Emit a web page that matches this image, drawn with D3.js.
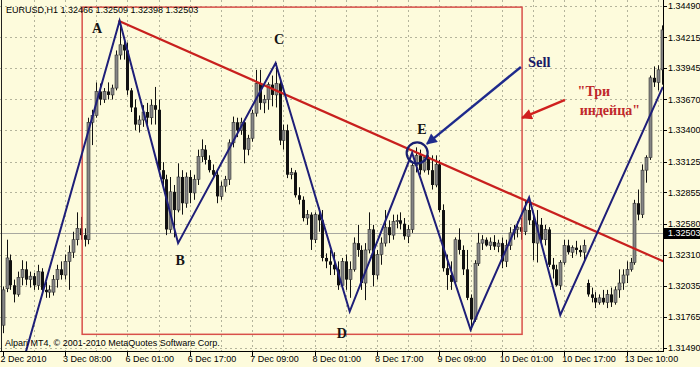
<!DOCTYPE html>
<html>
<head>
<meta charset="utf-8">
<script src="https://cdnjs.cloudflare.com/ajax/libs/d3/7.8.5/d3.min.js"></script>
<style>
  body { margin: 0; background: #fdfbdc; }
  .tick-text { font-family: "Liberation Sans", Arial, sans-serif; font-size: 9px; fill: #000; }
  .mark { font-family: "Liberation Serif", "Times New Roman", serif; font-weight: bold; }
</style>
</head>
<body>
<div class="chart"></div>
<script>
var svgWidth = 700;
var svgHeight = 367;

// plot area (MT4 keeps the price scale on the right, dates below)
var width = 663;
var height = 351;

// hourly candles EURUSD H1: [open, high, low, close]
var candles = [
  [1.3169,1.3203,1.3162,1.3200],[1.3201,1.3244,1.3198,1.3228],[1.3226,1.3231,1.3200,1.3204],[1.3204,1.3209,1.3189,1.3196],
  [1.3196,1.3216,1.3194,1.3211],[1.3211,1.3226,1.3204,1.3218],[1.3218,1.3225,1.3204,1.3209],[1.3209,1.3216,1.3202,1.3212],
  [1.3212,1.3215,1.3200,1.3204],[1.3204,1.3222,1.3200,1.3216],[1.3216,1.3219,1.3196,1.3200],[1.3200,1.3207,1.3193,1.3198],
  [1.3198,1.3204,1.3193,1.3200],[1.3198,1.3213,1.3195,1.3209],[1.3209,1.3222,1.3202,1.3218],[1.3218,1.3225,1.3209,1.3213],
  [1.3213,1.3231,1.3209,1.3225],[1.3225,1.3239,1.3200,1.3233],[1.3233,1.3251,1.3228,1.3244],[1.3244,1.3268,1.3239,1.3254],
  [1.3254,1.3264,1.3244,1.3248],[1.3248,1.3254,1.3238,1.3244],[1.3244,1.3351,1.3240,1.3347],[1.3347,1.3358,1.3327,1.3353],
  [1.3353,1.3382,1.3351,1.3374],[1.3374,1.3381,1.3362,1.3367],[1.3367,1.3377,1.3364,1.3374],[1.3374,1.3382,1.3367,1.3371],
  [1.3371,1.3380,1.3367,1.3377],[1.3377,1.3410,1.3375,1.3406],[1.3406,1.3435,1.3402,1.3415],[1.3415,1.3421,1.3402,1.3410],
  [1.3410,1.3417,1.3371,1.3375],[1.3375,1.3377,1.3356,1.3360],[1.3360,1.3367,1.3340,1.3345],[1.3345,1.3353,1.3338,1.3349],
  [1.3349,1.3362,1.3343,1.3356],[1.3356,1.3364,1.3345,1.3351],[1.3351,1.3367,1.3345,1.3362],[1.3362,1.3378,1.3345,1.3358],
  [1.3358,1.3367,1.3301,1.3305],[1.3305,1.3312,1.3288,1.3297],[1.3297,1.3301,1.3248,1.3253],[1.3253,1.3299,1.3250,1.3286],
  [1.3286,1.3292,1.3246,1.3270],[1.3270,1.3311,1.3268,1.3299],[1.3299,1.3305,1.3266,1.3276],[1.3276,1.3303,1.3272,1.3299],
  [1.3299,1.3305,1.3276,1.3285],[1.3285,1.3301,1.3279,1.3297],[1.3297,1.3323,1.3292,1.3317],[1.3317,1.3332,1.3312,1.3323],
  [1.3323,1.3327,1.3310,1.3314],[1.3314,1.3318,1.3303,1.3305],[1.3305,1.3310,1.3298,1.3301],[1.3301,1.3305,1.3276,1.3282],
  [1.3282,1.3295,1.3279,1.3291],[1.3291,1.3300,1.3286,1.3297],[1.3297,1.3332,1.3292,1.3329],[1.3329,1.3352,1.3325,1.3347],
  [1.3347,1.3351,1.3334,1.3340],[1.3340,1.3351,1.3336,1.3347],[1.3347,1.3349,1.3311,1.3323],[1.3323,1.3336,1.3318,1.3333],
  [1.3333,1.3358,1.3330,1.3355],[1.3355,1.3393,1.3352,1.3381],[1.3381,1.3393,1.3358,1.3364],[1.3364,1.3371,1.3355,1.3367],
  [1.3367,1.3382,1.3358,1.3380],[1.3380,1.3388,1.3361,1.3371],[1.3371,1.3399,1.3360,1.3381],[1.3381,1.3384,1.3327,1.3331],
  [1.3331,1.3345,1.3323,1.3340],[1.3340,1.3345,1.3298,1.3301],[1.3301,1.3307,1.3297,1.3303],[1.3303,1.3305,1.3281,1.3283],
  [1.3283,1.3290,1.3275,1.3279],[1.3279,1.3282,1.3260,1.3263],[1.3263,1.3270,1.3257,1.3266],[1.3266,1.3268,1.3235,1.3244],
  [1.3244,1.3268,1.3241,1.3266],[1.3266,1.3272,1.3251,1.3261],[1.3261,1.3270,1.3225,1.3228],[1.3228,1.3232,1.3219,1.3225],
  [1.3225,1.3235,1.3213,1.3222],[1.3222,1.3233,1.3213,1.3218],[1.3218,1.3225,1.3200,1.3204],[1.3204,1.3228,1.3202,1.3225],
  [1.3225,1.3231,1.3200,1.3209],[1.3209,1.3225,1.3193,1.3218],[1.3218,1.3246,1.3216,1.3241],[1.3241,1.3257,1.3229,1.3235],
  [1.3235,1.3239,1.3200,1.3206],[1.3206,1.3241,1.3191,1.3235],[1.3235,1.3268,1.3232,1.3253],[1.3253,1.3257,1.3203,1.3213],
  [1.3213,1.3235,1.3209,1.3231],[1.3231,1.3246,1.3222,1.3241],[1.3241,1.3270,1.3238,1.3255],[1.3255,1.3261,1.3241,1.3248],
  [1.3248,1.3266,1.3244,1.3260],[1.3260,1.3266,1.3254,1.3261],[1.3261,1.3268,1.3253,1.3258],[1.3258,1.3263,1.3244,1.3247],
  [1.3247,1.3257,1.3241,1.3253],[1.3253,1.3311,1.3250,1.3309],[1.3309,1.3325,1.3303,1.3318],[1.3318,1.3323,1.3301,1.3305],
  [1.3305,1.3318,1.3303,1.3316],[1.3316,1.3318,1.3301,1.3305],[1.3305,1.3318,1.3288,1.3292],[1.3292,1.3318,1.3290,1.3310],
  [1.3310,1.3314,1.3268,1.3270],[1.3270,1.3275,1.3216,1.3219],[1.3219,1.3231,1.3200,1.3213],[1.3213,1.3225,1.3200,1.3207],
  [1.3207,1.3246,1.3204,1.3244],[1.3244,1.3254,1.3231,1.3235],[1.3235,1.3239,1.3213,1.3218],[1.3218,1.3235,1.3191,1.3193],
  [1.3193,1.3196,1.3165,1.3174],[1.3174,1.3226,1.3172,1.3223],[1.3223,1.3250,1.3221,1.3241],[1.3241,1.3248,1.3235,1.3244],
  [1.3244,1.3246,1.3238,1.3239],[1.3239,1.3246,1.3235,1.3242],[1.3242,1.3248,1.3235,1.3238],[1.3238,1.3244,1.3233,1.3241],
  [1.3241,1.3246,1.3219,1.3225],[1.3225,1.3244,1.3220,1.3239],[1.3239,1.3255,1.3235,1.3250],[1.3250,1.3257,1.3244,1.3253],
  [1.3253,1.3260,1.3246,1.3255],[1.3255,1.3263,1.3244,1.3251],[1.3251,1.3279,1.3248,1.3270],[1.3270,1.3281,1.3257,1.3261],
  [1.3261,1.3268,1.3226,1.3241],[1.3241,1.3270,1.3224,1.3257],[1.3257,1.3263,1.3239,1.3244],[1.3244,1.3257,1.3239,1.3253],
  [1.3253,1.3255,1.3220,1.3222],[1.3222,1.3228,1.3210,1.3218],[1.3218,1.3222,1.3203,1.3204],[1.3204,1.3226,1.3200,1.3224],
  [1.3224,1.3244,1.3222,1.3239],[1.3239,1.3244,1.3231,1.3233],[1.3233,1.3239,1.3228,1.3237],[1.3237,1.3243,1.3231,1.3235],
  [1.3235,1.3239,1.3229,1.3233],[1.3233,1.3244,1.3225,1.3239],[1.3206,1.3209,1.3194,1.3196],[1.3196,1.3202,1.3189,1.3193],
  [1.3193,1.3198,1.3184,1.3189],[1.3189,1.3196,1.3187,1.3193],[1.3193,1.3200,1.3187,1.3189],[1.3189,1.3200,1.3184,1.3196],
  [1.3196,1.3202,1.3185,1.3189],[1.3189,1.3203,1.3187,1.3200],[1.3200,1.3218,1.3193,1.3206],[1.3206,1.3218,1.3200,1.3213],
  [1.3213,1.3225,1.3206,1.3218],[1.3218,1.3228,1.3216,1.3224],[1.3224,1.3279,1.3222,1.3276],[1.3276,1.3288,1.3261,1.3266],
  [1.3266,1.3310,1.3263,1.3305],[1.3305,1.3318,1.3294,1.3316],[1.3316,1.3388,1.3314,1.3386],[1.3386,1.3396,1.3378,1.3382],
  [1.3382,1.3397,1.3375,1.3393],[1.3393,1.3432,1.3380,1.3428]
];

var priceTicks = [1.31490, 1.31765, 1.32035, 1.32310, 1.32580, 1.32855, 1.33125, 1.33400, 1.33670, 1.33945, 1.34215, 1.34490];
var dateTickBars = [0, 16, 32, 48, 64, 80, 96, 112, 128, 144, 160];
var dateLabels = ["2 Dec 2010", "3 Dec 08:00", "6 Dec 01:00", "6 Dec 17:00", "7 Dec 09:00", "8 Dec 01:00",
  "8 Dec 17:00", "9 Dec 09:00", "10 Dec 01:00", "10 Dec 17:00", "13 Dec 10:00"];
var lastPrice = 1.32503;
var headerText = "EURUSD,H1  1.32466 1.32509 1.32398 1.32503";
var copyText = "Alpari MT4, \u00a9 2001-2010 MetaQuotes Software Corp.";

// drawn analysis: zigzag through the swing points, trend line A-E, the box
var zigzag = [[6, 1.3146], [30, 1.3436], [45, 1.3241], [70, 1.3399], [89, 1.3181], [105, 1.3320],
  [120, 1.3165], [135, 1.3281], [143, 1.3178], [169.3, 1.3378]];
var trendLine = [[29.7, 1.3436], [169.4, 1.3225]];
var boxBars = [20.4, 133.2];
var boxPrices = [1.3161, 1.3448];
var pointNames = ["A", "B", "C", "D", "E"];
var pointSpots = [[24.2, 1.3430], [45.5, 1.3226], [70.9, 1.3420], [87, 1.3162], [107.5, 1.3341]];
var sellArrow = [[132.9, 1.33955], [108.8, 1.3328]];
var sellSpot = [134.7, 1.33999];
var circleSpot = [106.3, 1.33201];
var noteArrow = [[144.2, 1.33666], [133.2, 1.33508]];
var noteLines = ["\"\u0422\u0440\u0438", "\u0438\u043d\u0434\u0435\u0439\u0446\u0430\""];
var noteSpots = [[151.6, 1.33745], [155.7, 1.33578]];

var svg = d3.select(".chart")
  .append("svg")
  .attr("width", svgWidth)
  .attr("height", svgHeight)
  .style("display", "block");

svg.append("rect").attr("width", svgWidth).attr("height", svgHeight).attr("fill", "#fdfbdc");

var x = d3.scaleLinear().domain([0, 169]).range([2.6, 661.7]);
var y = d3.scaleLinear().domain([1.3149, 1.3449]).range([348, 6]);

svg.append("clipPath").attr("id", "plot")
  .append("rect").attr("x", 0).attr("y", 0).attr("width", width).attr("height", height);

// grid
var grid = svg.append("g").attr("stroke", "#b4b49c").attr("stroke-width", 1).attr("stroke-dasharray", "2,3");
grid.selectAll(".h").data(priceTicks).enter().append("line")
  .attr("x1", 0).attr("x2", width)
  .attr("y1", d => Math.round(y(d)) + 0.5).attr("y2", d => Math.round(y(d)) + 0.5);
grid.selectAll(".v").data(d3.range(8, 169, 8)).enter().append("line")
  .attr("y1", 0).attr("y2", height)
  .attr("x1", d => Math.round(x(d)) + 0.5).attr("x2", d => Math.round(x(d)) + 0.5);

// current price line
svg.append("line")
  .attr("x1", 0).attr("x2", width)
  .attr("y1", Math.round(y(lastPrice)) + 0.5).attr("y2", Math.round(y(lastPrice)) + 0.5)
  .attr("stroke", "#a8a8a0").attr("stroke-width", 1);

// candles
var candleGroup = svg.append("g").attr("clip-path", "url(#plot)");
candleGroup.selectAll(".wick").data(candles).enter().append("line")
  .attr("x1", (d, i) => Math.round(x(i)) + 0.5).attr("x2", (d, i) => Math.round(x(i)) + 0.5)
  .attr("y1", d => y(d[1])).attr("y2", d => y(d[2]))
  .attr("stroke", "#111").attr("stroke-width", 1);
candleGroup.selectAll(".body").data(candles).enter().append("rect")
  .attr("x", (d, i) => Math.round(x(i)) - 1)
  .attr("width", 3)
  .attr("y", d => y(Math.max(d[0], d[3])))
  .attr("height", d => Math.max(1, Math.abs(y(d[0]) - y(d[3]))))
  .attr("fill", d => d[3] >= d[0] ? "#858585" : "#111")
  .attr("stroke", d => d[3] >= d[0] ? "#333" : "none")
  .attr("stroke-width", 0.6);

// analysis drawings
var draw = svg.append("g").attr("clip-path", "url(#plot)");
draw.append("rect")
  .attr("x", x(boxBars[0])).attr("y", y(boxPrices[1]))
  .attr("width", x(boxBars[1]) - x(boxBars[0]))
  .attr("height", y(boxPrices[0]) - y(boxPrices[1]))
  .attr("fill", "none").attr("stroke", "#d8504a").attr("stroke-width", 1.5);

var line = d3.line().x(d => x(d[0])).y(d => y(d[1]));
draw.append("path").attr("d", line(trendLine))
  .attr("fill", "none").attr("stroke", "#c8201e").attr("stroke-width", 2.2);
draw.append("path").attr("d", line(zigzag))
  .attr("fill", "none").attr("stroke", "#1e1e78").attr("stroke-width", 2).attr("stroke-linejoin", "miter");

var defs = svg.append("defs");
defs.append("marker").attr("id", "blueHead").attr("viewBox", "0 0 10 10")
  .attr("refX", 9).attr("refY", 5).attr("markerWidth", 5).attr("markerHeight", 4.5)
  .attr("orient", "auto").attr("markerUnits", "strokeWidth")
  .append("path").attr("d", "M0,0L10,5L0,10z").attr("fill", "#1e2a8c");
defs.append("marker").attr("id", "redHead").attr("viewBox", "0 0 10 10")
  .attr("refX", 9).attr("refY", 5).attr("markerWidth", 5).attr("markerHeight", 4.5)
  .attr("orient", "auto").attr("markerUnits", "strokeWidth")
  .append("path").attr("d", "M0,0L10,5L0,10z").attr("fill", "#d0201e");

draw.append("path").attr("d", line(sellArrow))
  .attr("fill", "none").attr("stroke", "#1e2a8c").attr("stroke-width", 2.4)
  .attr("marker-end", "url(#blueHead)");
draw.append("path").attr("d", line(noteArrow))
  .attr("fill", "none").attr("stroke", "#d0201e").attr("stroke-width", 2.4)
  .attr("marker-end", "url(#redHead)");
draw.append("circle")
  .attr("cx", x(circleSpot[0])).attr("cy", y(circleSpot[1])).attr("r", 10.5)
  .attr("fill", "none").attr("stroke", "#1a2070").attr("stroke-width", 2.2);

draw.selectAll(".pt").data(pointNames).enter().append("text")
  .attr("class", "mark")
  .attr("x", (d, i) => x(pointSpots[i][0])).attr("y", (d, i) => y(pointSpots[i][1]))
  .attr("text-anchor", "middle").attr("dy", "0.36em")
  .attr("font-size", "14px").attr("fill", "#151515")
  .text(d => d);

draw.append("text").attr("class", "mark")
  .attr("x", x(sellSpot[0])).attr("y", y(sellSpot[1])).attr("dy", "0.36em")
  .attr("font-size", "14.5px").attr("fill", "#1a1a66")
  .text("Sell");

draw.selectAll(".note").data(noteLines).enter().append("text")
  .attr("class", "mark")
  .attr("x", (d, i) => x(noteSpots[i][0])).attr("y", (d, i) => y(noteSpots[i][1]))
  .attr("text-anchor", "middle").attr("dy", "0.36em")
  .attr("font-size", "14px").attr("fill", "#c0282a")
  .text(d => d);

// frame
svg.append("line").attr("x1", width + 0.5).attr("x2", width + 0.5).attr("y1", 0).attr("y2", height + 1)
  .attr("stroke", "#000");
svg.append("line").attr("x1", 0).attr("x2", width + 1).attr("y1", height + 0.5).attr("y2", height + 0.5)
  .attr("stroke", "#000");
svg.append("line").attr("x1", 1.5).attr("x2", 1.5).attr("y1", 0).attr("y2", height)
  .attr("stroke", "#222");

// price scale
var priceAxis = svg.append("g");
priceAxis.selectAll("line").data(priceTicks).enter().append("line")
  .attr("x1", width).attr("x2", width + 4)
  .attr("y1", d => Math.round(y(d)) + 0.5).attr("y2", d => Math.round(y(d)) + 0.5)
  .attr("stroke", "#000");
priceAxis.selectAll("text").data(priceTicks).enter().append("text")
  .attr("class", "tick-text")
  .attr("x", width + 5).attr("y", d => y(d)).attr("dy", "0.35em")
  .attr("font-size", "8.4px")
  .text(d => d.toFixed(5));

var tagY = Math.round(y(lastPrice));
svg.append("rect").attr("x", width + 1).attr("y", tagY - 5).attr("width", svgWidth - width - 1).attr("height", 11)
  .attr("fill", "#000");
svg.append("text").attr("class", "tick-text")
  .attr("x", width + 5).attr("y", tagY).attr("dy", "0.35em")
  .attr("font-size", "8.4px").style("fill", "#fff")
  .text(lastPrice.toFixed(5));

// date scale
var dateAxis = svg.append("g");
dateAxis.selectAll("line").data(dateTickBars).enter().append("line")
  .attr("x1", d => Math.round(x(d)) + 0.5).attr("x2", d => Math.round(x(d)) + 0.5)
  .attr("y1", height).attr("y2", height + 5)
  .attr("stroke", "#000");
dateAxis.selectAll("text").data(dateTickBars).enter().append("text")
  .attr("class", "tick-text")
  .attr("x", d => x(d) - 2).attr("y", 362)
  .text((d, i) => dateLabels[i]);

// header and copyright
svg.append("text").attr("class", "tick-text")
  .attr("x", 6).attr("y", 13).attr("font-size", "9.2px")
  .text(headerText);
svg.append("text").attr("class", "tick-text")
  .attr("x", 5).attr("y", 346).attr("font-size", "9.8px")
  .text(copyText);
</script>
</body>
</html>
